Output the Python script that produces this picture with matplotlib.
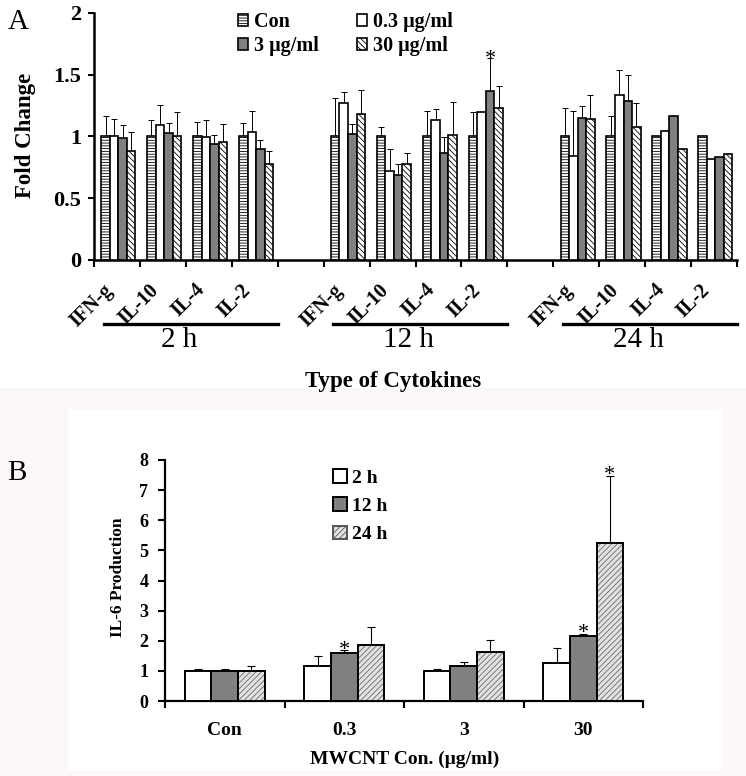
import numpy as np
import matplotlib
matplotlib.use('Agg')
import matplotlib.pyplot as plt
from matplotlib.patches import Rectangle, Patch
from matplotlib.lines import Line2D

plt.rcParams['font.family'] = ['Liberation Serif', 'DejaVu Serif']
plt.rcParams['hatch.linewidth'] = 0.6

# ---- panel A data ----
cytokines = ['IFN-g', 'IL-10', 'IL-4', 'IL-2']
times = ['2 h', '12 h', '24 h']
conc_labels = ['Con', '0.3 μg/ml', '3 μg/ml', '30 μg/ml']

# order: 2 h (IFN-g, IL-10, IL-4, IL-2), 12 h (...), 24 h (...)
fold_con = [1.00, 1.00, 1.00, 1.00, 1.00, 1.00, 1.00, 1.00, 1.00, 1.00, 1.00, 1.00]
fold_03 = [1.00, 1.09, 0.995, 1.04, 1.27, 0.72, 1.13, 1.20, 0.84, 1.34, 1.045, 0.82]
fold_3 = [0.99, 1.03, 0.94, 0.90, 1.02, 0.69, 0.87, 1.365, 1.15, 1.29, 1.17, 0.835]
fold_30 = [0.88, 1.00, 0.955, 0.78, 1.18, 0.78, 1.015, 1.23, 1.14, 1.08, 0.90, 0.86]

err_con = [0.17, 0.13, 0.115, 0.11, 0.31, 0.075, 0.21, 0.20, 0.23, 0.17, 0, 0]
err_03 = [0.14, 0.165, 0.14, 0.17, 0.09, 0.175, 0.095, 0, 0.37, 0.20, 0, 0]
err_3 = [0.105, 0.08, 0.07, 0.075, 0.08, 0.09, 0.125, 0.27, 0.095, 0.205, 0, 0]
err_30 = [0.16, 0.20, 0.15, 0.10, 0.20, 0.085, 0.265, 0.18, 0.20, 0.19, 0, 0]

# significant bars in A: (index into the 12 categories, concentration index)
stars_a = [(7, 2)]

# ---- panel B data ----
mw_conc = ['Con', '0.3', '3', '30']
time_labels = ['2 h', '12 h', '24 h']
il6_2h = [1.00, 1.15, 1.00, 1.27]
il6_12h = [1.00, 1.60, 1.16, 2.16]
il6_24h = [1.00, 1.85, 1.63, 5.23]
il6_2h_err = [0.07, 0.33, 0.06, 0.49]
il6_12h_err = [0.05, 0.08, 0.13, 0.08]
il6_24h_err = [0.15, 0.61, 0.41, 2.24]
stars_b = [(1, 1), (3, 1), (3, 2)]

fig = plt.figure(figsize=(7.46, 7.76), dpi=100)

# faint scanned-panel background behind B
fig.patches.append(Rectangle((0, 0), 1, 1 - 388 / 776, transform=fig.transFigure,
                             facecolor='#fcf8f8', edgecolor='none', zorder=-10))
fig.patches.append(Rectangle((68 / 746, 6 / 776), (722 - 68) / 746, (770 - 409) / 776,
                             transform=fig.transFigure, facecolor='white', edgecolor='none', zorder=-9))

# ================= panel A =================
ax = fig.add_axes([94 / 746, 1 - 260 / 776, 643 / 746, 247 / 776])
pos = np.array([g * 5 + j for g in range(3) for j in range(4)], dtype=float)
w = 0.186
series = [
    (fold_con, err_con, dict(facecolor='white', hatch='------')),
    (fold_03, err_03, dict(facecolor='white')),
    (fold_3, err_3, dict(facecolor='#808080')),
    (fold_30, err_30, dict(facecolor='white', hatch='\\\\\\\\\\\\')),
]
handles = []
for k, (vals, errs, style) in enumerate(series):
    xs = pos + (k - 1.5) * w + 0.03
    b = ax.bar(xs, vals, width=w, edgecolor='black', linewidth=1.2, zorder=3, **style)
    handles.append(b)
    vals = np.array(vals)
    errs = np.array(errs)
    m = errs > 0
    ax.errorbar(xs[m], vals[m], yerr=[np.zeros(m.sum()), errs[m]], fmt='none',
                ecolor='black', elinewidth=0.7, capsize=2.5, capthick=0.7, zorder=2)

for i, k in stars_a:
    xs = pos[i] + (k - 1.5) * w + 0.03
    top = [fold_con, fold_03, fold_3, fold_30][k][i] + [err_con, err_03, err_3, err_30][k][i]
    ax.annotate('*', xy=(xs, top), xytext=(0, -4), textcoords='offset points',
                ha='center', va='baseline', fontsize=16)

ax.set_xlim(-0.5, 13.5)
ax.set_ylim(0, 2)
ax.set_yticks([0, 0.5, 1, 1.5, 2])
ax.set_yticklabels(['0', '0.5', '1', '1.5', '2'], fontsize=16, fontweight='bold')
ax.set_xticks(np.arange(-0.5, 14, 1))
ax.set_xticklabels([])
ax.tick_params(axis='both', direction='out', width=1.5, length=4, pad=5)
ax.tick_params(axis='x', length=5)
for s in ['top', 'right']:
    ax.spines[s].set_visible(False)
for s in ['left', 'bottom']:
    ax.spines[s].set_linewidth(1.8)
ax.set_ylabel('Fold Change', fontsize=16.5, fontweight='bold')
ax.yaxis.set_label_coords(-0.090, 0.506)

for p, lab in zip(pos, cytokines * 3):
    ax.annotate(lab, xy=(p, 0), xycoords=('data', 'axes fraction'),
                xytext=(-5, -19.5), textcoords='offset points',
                rotation=45, rotation_mode='anchor', ha='right', va='center',
                fontsize=14.5, fontweight='bold')

tr = ax.get_xaxis_transform()
for g, t in enumerate(times):
    ax.add_line(Line2D([g * 5 - 0.29, g * 5 + 3.5], [-0.259, -0.259], transform=tr,
                       color='black', linewidth=2.4, clip_on=False))
    ax.text(g * 5 + 1.35, -0.324, t, transform=tr, ha='center', va='center', fontsize=21)
ax.text(0.465, -0.49, 'Type of Cytokines', transform=ax.transAxes, ha='center',
        va='center', fontsize=16.5, fontweight='bold')

ax.legend([handles[0], handles[2], handles[1], handles[3]],
          [conc_labels[0], conc_labels[2], conc_labels[1], conc_labels[3]],
          loc='upper left', bbox_to_anchor=(238 / 746, 1 - 12 / 776), bbox_transform=fig.transFigure,
          ncol=2, frameon=False, prop={'weight': 'bold', 'size': 14.5},
          handlelength=0.5, handleheight=0.6, handletextpad=0.3,
          columnspacing=1.9, labelspacing=0.2, borderpad=0, borderaxespad=0)

fig.text(18 / 746, 1 - 22 / 776, 'A', ha='center', va='center', fontsize=21)
fig.text(17 / 746, 1 - 473 / 776, 'B', ha='center', va='center', fontsize=21)

# ================= panel B =================
bx = fig.add_axes([165 / 746, 1 - 701 / 776, 478 / 746, 241 / 776])
xb = np.arange(len(mw_conc), dtype=float)
wb = 0.223
b_vals = [il6_2h, il6_12h, il6_24h]
b_errs = [il6_2h_err, il6_12h_err, il6_24h_err]
for k in range(3):
    xs = xb + (k - 1) * wb
    if k == 2:
        bx.bar(xs, b_vals[k], width=wb, facecolor='#e2e2e2', edgecolor='#6a6a6a',
               hatch='//////', linewidth=0, zorder=3)
        bx.bar(xs, b_vals[k], width=wb, facecolor='none', edgecolor='black',
               linewidth=1.4, zorder=4)
    else:
        bx.bar(xs, b_vals[k], width=wb, facecolor=['white', '#808080'][k],
               edgecolor='black', linewidth=1.4, zorder=3)
    bx.errorbar(xs, b_vals[k], yerr=[np.zeros(len(xs)), b_errs[k]], fmt='none',
                ecolor='black', elinewidth=0.8, capsize=3, capthick=0.8, zorder=2)

for i, k in stars_b:
    xs = xb[i] + (k - 1) * wb
    top = b_vals[k][i] + b_errs[k][i]
    bx.annotate('*', xy=(xs, top), xytext=(0, -3), textcoords='offset points',
                ha='center', va='baseline', fontsize=16)

leg_h = [Patch(facecolor='white', edgecolor='black', linewidth=1.4),
         Patch(facecolor='#808080', edgecolor='black', linewidth=1.4),
         Patch(facecolor='#e2e2e2', edgecolor='#555555', hatch='//////', linewidth=1.4)]
bx.legend(leg_h, time_labels, loc='upper left', bbox_to_anchor=(333 / 746, 1 - 469 / 776),
          bbox_transform=fig.transFigure, frameon=False, prop={'weight': 'bold', 'size': 14},
          handlelength=0.7, handleheight=0.7, handletextpad=0.3, labelspacing=0.55,
          borderpad=0, borderaxespad=0)

bx.set_xlim(-0.5, 3.5)
bx.set_ylim(0, 8)
bx.set_yticks(range(0, 9))
bx.set_yticklabels([str(v) for v in range(0, 9)], fontsize=13, fontweight='bold')
bx.set_xticks(np.arange(-0.5, 4, 1))
bx.set_xticklabels([])
bx.set_xticks(xb, minor=True)
bx.set_xticklabels(mw_conc, minor=True, fontsize=14, fontweight='bold')
bx.tick_params(axis='x', which='minor', length=0, pad=15)
bx.tick_params(axis='both', which='major', direction='out', width=1.5, length=5, pad=7)
for s in ['top', 'right']:
    bx.spines[s].set_visible(False)
for s in ['left', 'bottom']:
    bx.spines[s].set_linewidth(1.6)
bx.set_ylabel('IL-6 Production', fontsize=12.5, fontweight='bold')
bx.yaxis.set_label_coords(-0.082, 0.512)
bx.set_xlabel('MWCNT Con. (μg/ml)', fontsize=14, fontweight='bold')
bx.xaxis.set_label_coords(0.502, -0.207)

fig.savefig('out.png', dpi=100)
